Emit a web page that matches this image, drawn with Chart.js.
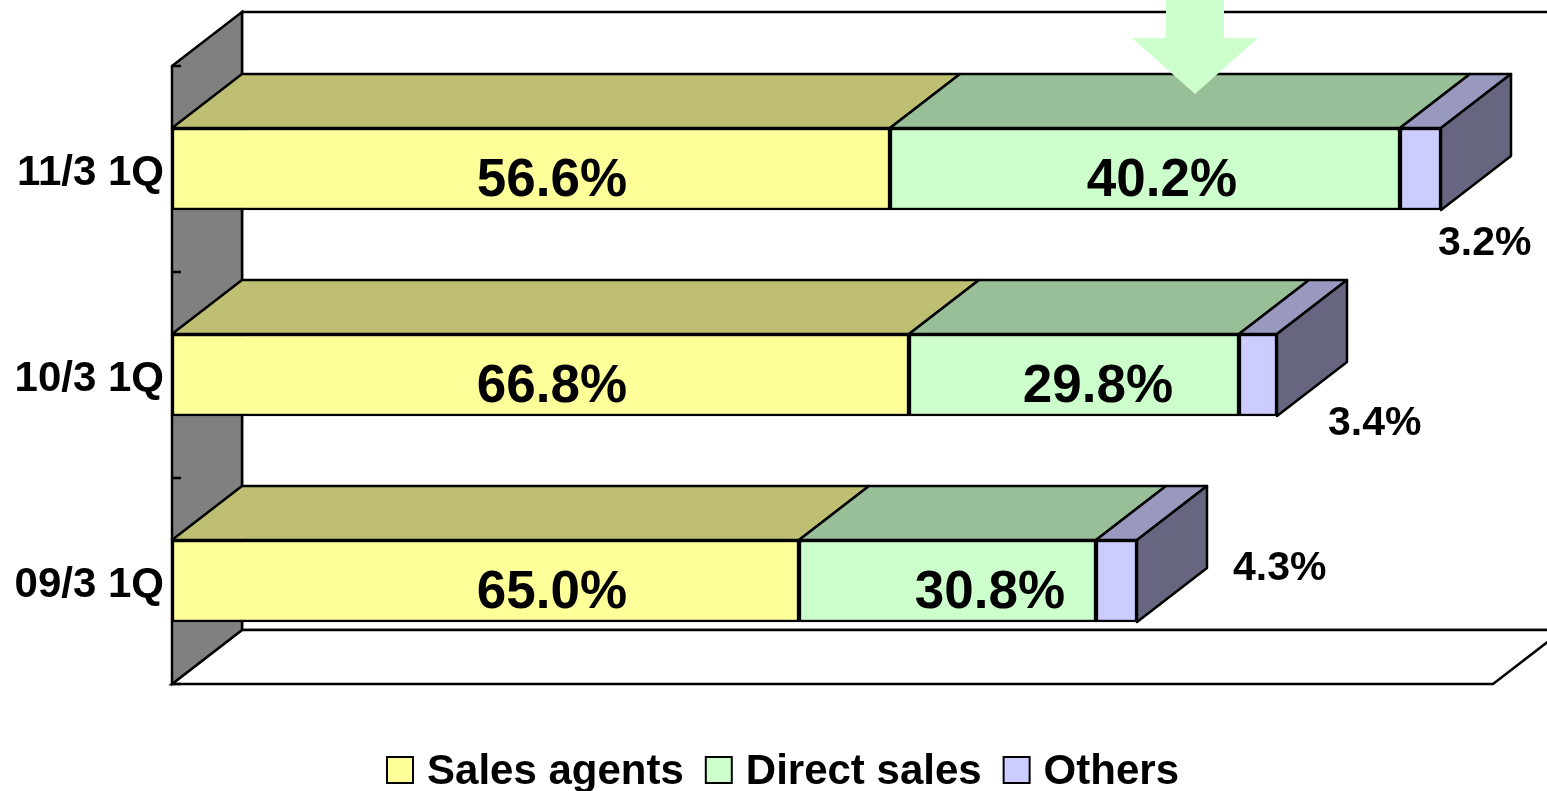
<!DOCTYPE html>
<html>
<head>
<meta charset="utf-8">
<script src="https://cdn.jsdelivr.net/npm/chart.js@4"></script>
<style>
    html, body { margin: 0; padding: 0; background: #fff; }
    canvas { display: block; }
</style>
</head>
<body>
<canvas id="share" width="1547" height="791"></canvas>
<script>
// DATA (top row first)
const periods = ['11/3 1Q', '10/3 1Q', '09/3 1Q'];
const salesAgents = [718, 737, 627];
const directSales = [510, 330, 297];
const others = [41, 38, 41];
const salesAgentsPct = ['56.6%', '66.8%', '65.0%'];
const directSalesPct = ['40.2%', '29.8%', '30.8%'];
const othersPct = ['3.2%', '3.4%', '4.3%'];
const axisMax = 1321;

// STYLE
const FONT = '"Liberation Sans", Arial, sans-serif';
const FRONT = ['#FFFF99', '#CCFFCC', '#CCCCFF'];
const TOP = ['#BFBF73', '#99BF99', '#9999BF'];
const SIDE = '#666680';
const DEPTH = { dx: 70, dy: -54 };

// where the percentage labels sit (axis units / px offset from bar centre)
const labelSpots = [
    { x: [380, 380, 380], dy: [8, 8, 8], align: 'center', size: 53 },
    { x: [990, 926, 818], dy: [8, 8, 8], align: 'center', size: 53 },
    { x: [1266, 1156, 1061], dy: [71, 45, -16], align: 'left', size: 41 }
];
const pctLabels = [salesAgentsPct, directSalesPct, othersPct];

function poly(ctx, pts, fill = true, stroke = true) {
    ctx.beginPath();
    ctx.moveTo(pts[0][0], pts[0][1]);
    for (let i = 1; i < pts.length; i++) ctx.lineTo(pts[i][0], pts[i][1]);
    ctx.closePath();
    if (fill) ctx.fill();
    if (stroke) ctx.stroke();
}

const box3d = {
    id: 'box3d',
    beforeDatasetsDraw(chart) {
        const { ctx, chartArea: a } = chart;
        const { dx, dy } = DEPTH;
        ctx.save();
        ctx.lineWidth = 2.5;
        ctx.strokeStyle = '#000';
        // back wall
        ctx.fillStyle = '#fff';
        poly(ctx, [[a.left + dx, a.top + dy], [a.right + dx + 40, a.top + dy], [a.right + dx + 40, a.bottom + dy], [a.left + dx, a.bottom + dy]]);
        // floor
        poly(ctx, [[a.left, a.bottom], [a.right, a.bottom], [a.right + dx, a.bottom + dy], [a.left + dx, a.bottom + dy]]);
        // left wall
        ctx.fillStyle = '#808080';
        poly(ctx, [[a.left, a.top], [a.left + dx, a.top + dy], [a.left + dx, a.bottom + dy], [a.left, a.bottom]]);
        // tick marks between categories
        const yScale = chart.scales.y;
        ctx.beginPath();
        for (let i = 0; i <= periods.length; i++) {
            const y = Math.round(yScale.getPixelForValue(i - 0.5));
            ctx.moveTo(a.left, y);
            ctx.lineTo(a.left + 9, y);
        }
        ctx.stroke();
        ctx.restore();
    },
    afterDatasetsDraw(chart) {
        const { ctx } = chart;
        const { dx, dy } = DEPTH;
        const n = chart.data.datasets.length;
        ctx.save();
        ctx.lineWidth = 2.5;
        ctx.strokeStyle = '#000';
        ctx.lineJoin = 'round';
        chart.data.datasets.forEach((ds, di) => {
            const meta = chart.getDatasetMeta(di);
            meta.data.forEach(bar => {
                const { x, base, y, height } = bar.getProps(['x', 'base', 'y', 'height'], true);
                const top = y - height / 2;
                const bottom = y + height / 2;
                const l = Math.min(x, base);
                const r = Math.max(x, base);
                ctx.fillStyle = TOP[di];
                poly(ctx, [[l, top], [l + dx, top + dy], [r + dx, top + dy], [r, top]]);
                if (di === n - 1) {
                    ctx.fillStyle = SIDE;
                    poly(ctx, [[r, top], [r + dx, top + dy], [r + dx, bottom + dy], [r, bottom]]);
                }
            });
        });
        ctx.restore();
    },
    afterDraw(chart) {
        const { ctx } = chart;
        const xScale = chart.scales.x;
        const yScale = chart.scales.y;
        ctx.save();

        // percentage labels
        ctx.fillStyle = '#000';
        ctx.textBaseline = 'alphabetic';
        pctLabels.forEach((texts, si) => {
            const spot = labelSpots[si];
            ctx.font = `bold ${spot.size}px ${FONT}`;
            ctx.textAlign = spot.align;
            texts.forEach((t, i) => {
                const px = xScale.getPixelForValue(spot.x[i]);
                const py = yScale.getPixelForValue(i) + spot.dy[i] + spot.size * 0.358;
                ctx.fillText(t, px, py);
            });
        });

        // green arrow
        ctx.fillStyle = '#CCFFCC';
        poly(ctx, [[1166, 0], [1224, 0], [1224, 38], [1258, 38], [1195, 94], [1132, 38], [1166, 38]], true, false);

        // legend
        ctx.font = `bold 42px ${FONT}`;
        ctx.textAlign = 'left';
        const boxSize = 26, boxGap = 14, itemGap = 22;
        const items = chart.data.datasets.map(ds => ({
            text: ds.label,
            color: ds.backgroundColor,
            w: ctx.measureText(ds.label).width
        }));
        let total = items.reduce((s, it) => s + boxSize + boxGap + it.w, 0) + itemGap * (items.length - 1);
        let lx = 783 - total / 2;
        ctx.lineWidth = 2;
        ctx.strokeStyle = '#000';
        items.forEach(it => {
            ctx.fillStyle = it.color;
            ctx.fillRect(lx, 757, boxSize, boxSize);
            ctx.strokeRect(lx, 757, boxSize, boxSize);
            ctx.fillStyle = '#000';
            ctx.fillText(it.text, lx + boxSize + boxGap, 784);
            lx += boxSize + boxGap + it.w + itemGap;
        });
        ctx.restore();
    }
};

const chart = new Chart(
    document.getElementById('share'),
    {
        type: 'bar',
        data: {
            labels: periods,
            datasets: [
                { label: 'Sales agents', data: salesAgents, backgroundColor: FRONT[0] },
                { label: 'Direct sales', data: directSales, backgroundColor: FRONT[1] },
                { label: 'Others', data: others, backgroundColor: FRONT[2] }
            ].map(ds => Object.assign(ds, {
                borderColor: '#000',
                borderWidth: 2.5,
                borderSkipped: false,
                barThickness: 82
            }))
        },
        options: {
            indexAxis: 'y',
            responsive: false,
            animation: false,
            layout: { padding: { left: 0, right: 54, top: 66, bottom: 107 } },
            scales: {
                x: {
                    stacked: true,
                    display: false,
                    min: 0,
                    max: axisMax
                },
                y: {
                    stacked: true,
                    grid: { display: false },
                    border: { display: false },
                    ticks: {
                        color: '#000',
                        padding: 0,
                        labelOffset: 4,
                        font: { family: FONT, size: 42, weight: 'bold' }
                    },
                    afterFit: function (scale) {
                        scale.width = 172;
                    }
                }
            },
            plugins: {
                legend: { display: false },
                tooltip: { enabled: false }
            }
        },
        plugins: [box3d]
    }
);
</script>
</body>
</html>
